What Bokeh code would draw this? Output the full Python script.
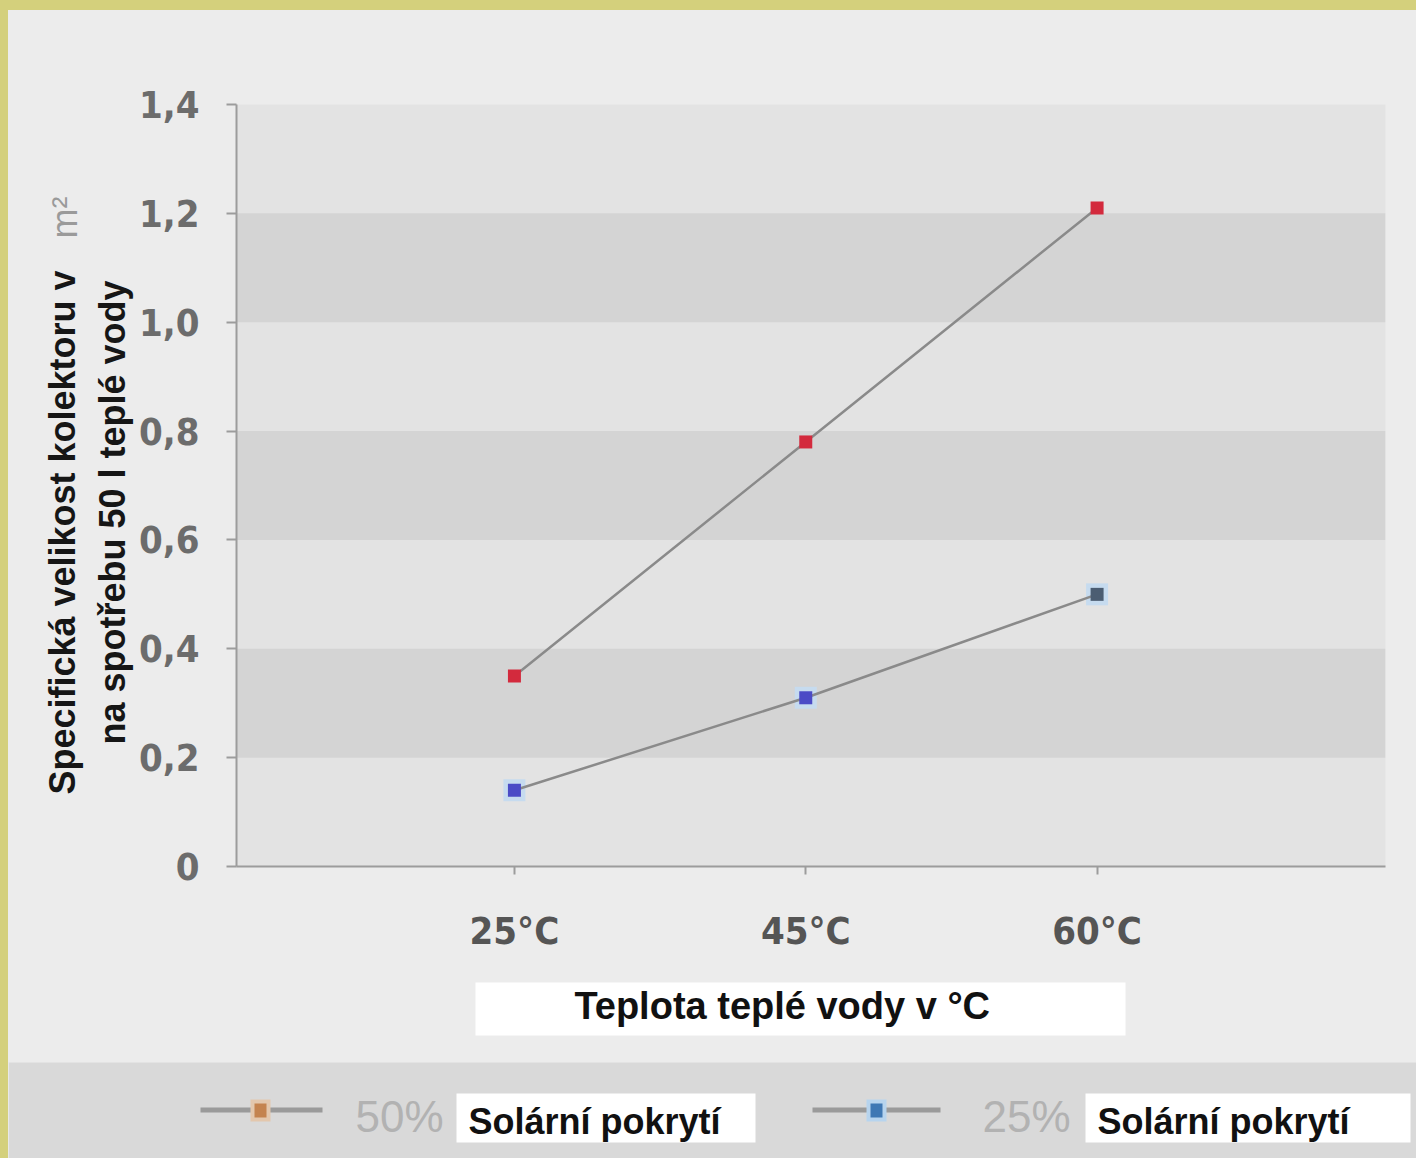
import math
from bokeh.plotting import figure
from bokeh.models import Label, BoxAnnotation, FixedTicker, Range1d, Div
from bokeh.layouts import column, row
from bokeh.embed import file_html
from bokeh.resources import INLINE

# ---- data ----
categories = ["25°C", "45°C", "60°C"]
solar50 = [0.35, 0.78, 1.21]
solar25 = [0.14, 0.31, 0.50]
y_ticks = [0, 0.2, 0.4, 0.6, 0.8, 1.0, 1.2, 1.4]
y_tick_labels = ["0", "0,2", "0,4", "0,6", "0,8", "1,0", "1,2", "1,4"]
band_bottoms = [0.2, 0.6, 1.0]
band_height = 0.2
series_names = ["50%", "25%"]
legend_text = "Solární pokrytí"
x_title = "Teplota teplé vody v  °C"
y_title_1 = "Specifická velikost kolektoru v"
y_title_unit = "m²"
y_title_2 = "na spotřebu 50 l teplé vody"

# ---- layout (canvas pixels) ----
W, H = 1416, 1158
YEL = "#d4d07c"
BG = "#ececec"
TOPB, LEFTB = 10, 8          # yellow border widths
LEFTW = 127                  # width of y-title strip
MAIN_BOTTOM = 970            # canvas y where lower strip begins
FL, FT, FR, FB = 235, 104, 1385, 866   # frame edges on the canvas

x_idx = list(range(len(categories)))


def blank(width, height):
    f = figure(width=width, height=height, x_range=Range1d(0, 1), y_range=Range1d(0, 1),
               output_backend="svg", toolbar_location=None,
               x_axis_location=None, y_axis_location=None, min_border=0)
    f.background_fill_color = BG
    f.border_fill_color = BG
    f.outline_line_color = None
    f.xgrid.visible = False
    f.ygrid.visible = False
    return f


def sbox(f, l, r, t, b, color):
    f.add_layout(BoxAnnotation(left=l, right=r, top=t, bottom=b,
                               left_units="screen", right_units="screen",
                               top_units="screen", bottom_units="screen",
                               fill_color=color, fill_alpha=1, line_alpha=0))


# ---------------- main plot ----------------
main_w = W - LEFTB - LEFTW
main_h = MAIN_BOTTOM - TOPB
p = figure(width=main_w, height=main_h, x_range=Range1d(-0.954, 2.99), y_range=Range1d(0, 1.4),
           output_backend="svg", toolbar_location=None,
           min_border_left=FL - (LEFTB + LEFTW), min_border_right=W - FR,
           min_border_top=FT - TOPB, min_border_bottom=MAIN_BOTTOM - FB)
p.background_fill_color = "#e3e3e3"
p.border_fill_color = BG
p.outline_line_color = None
p.xgrid.visible = False
p.ygrid.visible = False

for b0 in band_bottoms:
    p.add_layout(BoxAnnotation(bottom=b0, top=b0 + band_height, fill_color="#d4d4d4",
                               fill_alpha=1, line_alpha=0, level="underlay"))

p.line(x_idx, solar50, line_color="#8a8a8a", line_width=2.5)
p.scatter(x_idx, solar50, marker="square", size=13, fill_color="#d32a3d", line_color=None)
p.scatter(x_idx, solar25, marker="square", size=22, fill_color="#c6dbef", line_color=None)
p.line(x_idx, solar25, line_color="#8a8a8a", line_width=2.5)
p.scatter(x_idx, solar25, marker="square", size=13,
          fill_color=["#4b4bc6", "#4b4bc6", "#4b5d72"], line_color=None)

for ax in (p.yaxis[0], p.xaxis[0]):
    ax.axis_line_color = "#9c9c9c"
    ax.axis_line_width = 2
    ax.major_tick_line_color = "#9c9c9c"
    ax.major_tick_line_width = 2
    ax.minor_tick_line_color = None
    ax.major_tick_in = 0
    ax.major_label_text_font = "DejaVu Sans Condensed"
    ax.major_label_text_font_style = "bold"
    ax.major_label_text_font_size = "38px"

p.yaxis.ticker = FixedTicker(ticks=y_ticks)
p.yaxis.major_label_overrides = {t: s for t, s in zip(y_ticks, y_tick_labels)}
p.yaxis.major_tick_out = 10
p.yaxis.major_label_standoff = 27
p.yaxis.major_label_text_color = "#6c6c6c"

p.xaxis.ticker = FixedTicker(ticks=x_idx)
p.xaxis.major_label_overrides = {i: c for i, c in zip(x_idx, categories)}
p.xaxis.major_tick_out = 8
p.xaxis.major_label_standoff = 34
p.xaxis.major_label_text_color = "#555555"

# ---------------- y-title strip (its frame is aligned with the main frame) ----------------
lf = blank(LEFTW, main_h)
ox, oy = LEFTB, FB   # canvas origin of this frame (bottom-left)
for txt, cx, cy, col, style in [(y_title_1, 62, 532, "#161616", "bold"),
                                (y_title_unit, 64, 217, "#9a9a9a", "normal"),
                                (y_title_2, 112, 512, "#161616", "bold")]:
    lf.add_layout(Label(x=cx - ox, y=oy - cy, x_units="screen", y_units="screen", text=txt,
                        angle=math.pi / 2, text_align="center", text_baseline="middle",
                        text_font="Liberation Sans", text_font_style=style,
                        text_font_size="36px", text_color=col))

# ---------------- lower strip: x title + legend ----------------
bf = blank(W - LEFTB, H - MAIN_BOTTOM)
ox, oy = LEFTB, H


def bbox(l, r, t, b, color):
    sbox(bf, l - ox, r - ox, oy - t, oy - b, color)


def blabel(txt, cx, cy, size, color, align="left", style="normal"):
    bf.add_layout(Label(x=cx - ox, y=oy - cy, x_units="screen", y_units="screen", text=txt,
                        text_align=align, text_baseline="middle", text_font="Liberation Sans",
                        text_font_style=style, text_font_size=size, text_color=color))


bbox(475, 1125, 982, 1035, "#ffffff")
blabel(x_title, 787, 1005, "38px", "#111111", align="center", style="bold")

bbox(LEFTB, W, 1062, H, "#d9d9d9")
leg = [
    dict(l0=200, l1=322, m=260, mcol="#c4834f", halo="#e3c7ad", pct=355, wb0=456, wb1=755),
    dict(l0=812, l1=940, m=876, mcol="#3f78b4", halo="#b7d4ee", pct=982, wb0=1085, wb1=1410),
]
for name, d in zip(series_names, leg):
    bbox(d["l0"], d["l1"], 1107, 1112, "#9a9a9a")
    bbox(d["m"] - 10, d["m"] + 10, 1099, 1121, d["halo"])
    bbox(d["m"] - 6, d["m"] + 6, 1103, 1117, d["mcol"])
    blabel(name, d["pct"], 1116, "44px", "#b2b2b2")
    bbox(d["wb0"], d["wb1"], 1093, 1142, "#ffffff")
    blabel(legend_text, d["wb0"] + 12, 1121, "36px", "#111111", style="bold")

# ---------------- yellow border + assembly ----------------
top_strip = Div(width=W, height=TOPB, margin=0, styles={"background-color": YEL})
left_strip = Div(width=LEFTB, height=H - TOPB, margin=0, styles={"background-color": YEL})

layout = column(top_strip,
                row(left_strip,
                    column(row(lf, p, spacing=0, styles={"background-color": BG}), bf,
                           spacing=0, styles={"background-color": BG}),
                    spacing=0, styles={"background-color": BG}),
                spacing=0, styles={"background-color": BG})

open("out.html", "w").write(file_html(layout, INLINE))
